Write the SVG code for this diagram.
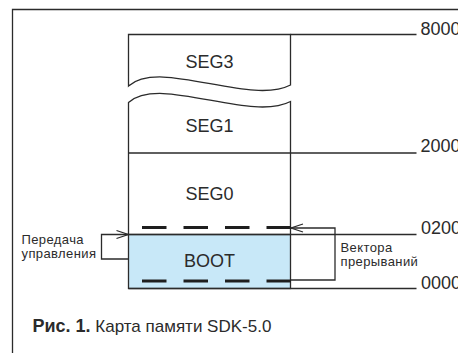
<svg xmlns="http://www.w3.org/2000/svg" width="458" height="353" viewBox="0 0 458 353">
<style>
.ln{fill:none;stroke:#2b2b2b;stroke-width:1.3}
.dash{fill:none;stroke:#1e1e1e;stroke-width:3;stroke-dasharray:24.5 17}
.t{font-family:"Liberation Sans",Arial,sans-serif;fill:#2b2b2b}
.big{font-size:18px}
.sm{font-size:13px;letter-spacing:0.4px}
.mid{text-anchor:middle}
</style>
<rect x="0" y="0" width="458" height="353" fill="#ffffff"/>
<g id="frame">
<path class="ln" d="M12.5,353 V9.5 H458"/>
</g>
<g id="seg3">
<path class="ln" fill="#ffffff" d="M128.5,86 V34.5 H290.5 V85 C250,106 160,58 128.5,86 Z"/>
<text class="t big mid" x="209.5" y="68">SEG3</text>
</g>
<g id="seg1">
<path class="ln" d="M128.5,153 V102.5 C160,74.5 250,122.5 290.5,101.5 V153"/>
<text class="t big mid" x="209.5" y="131.5">SEG1</text>
</g>
<g id="seg0">
<path class="ln" d="M128.5,153 V234.5 M290.5,153 V234.5"/>
<text class="t big mid" x="209.5" y="200">SEG0</text>
</g>
<g id="boot">
<rect x="128.5" y="234.5" width="162" height="54" fill="#c8e8f8" stroke="#2b2b2b" stroke-width="1.3"/>
<text class="t big mid" x="209.5" y="266.5">BOOT</text>
</g>
<g id="addresses">
<path class="ln" d="M290.5,34.5 H416.5 M128.5,153 H416.5 M128.5,234.5 H416.5 M128.5,288.5 H416.5"/>
<text class="t big" x="420.5" y="35">8000</text>
<text class="t big" x="420.5" y="152">2000</text>
<text class="t big" x="421" y="234">0200</text>
<text class="t big" x="421" y="289">0000</text>
</g>
<g id="connectors">
<path class="dash" d="M142,227.5 H291"/>
<path class="dash" d="M142,281 H291"/>
<path class="ln" d="M291,228 H335 V280 H291"/>
<path class="ln" d="M303,224 L291,228 L303,232"/>
<path class="ln" d="M128.5,259 H101.5 V234.5 H128"/>
<path class="ln" d="M116.5,230.5 L128.3,234.5 L116.5,238.5"/>
</g>
<g id="label-left">
<text class="t sm" x="21.5" y="244">Передача</text>
<text class="t sm" x="21.5" y="257.5">управления</text>
</g>
<g id="label-right">
<text class="t sm" x="340.5" y="252">Вектора</text>
<text class="t sm" x="340.5" y="266">прерываний</text>
</g>
<g id="caption">
<text class="t" x="32.5" y="331.5" font-size="17"><tspan font-weight="bold" font-size="18">Рис. 1.</tspan> Карта памяти SDK-5.0</text>
</g>
</svg>
